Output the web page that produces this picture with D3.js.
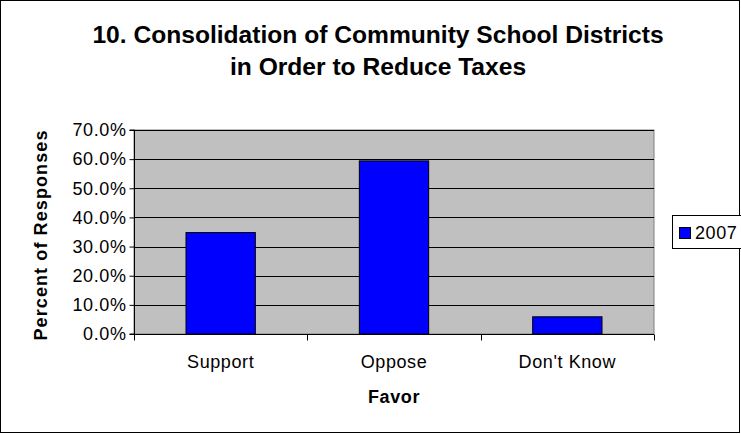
<!DOCTYPE html>
<html>
<head>
<meta charset="utf-8">
<script src="https://cdn.jsdelivr.net/npm/d3@7/dist/d3.min.js"></script>
<style>
  html, body { margin: 0; padding: 0; background: #fff; }
  svg { display: block; font-family: "Liberation Sans", Arial, sans-serif; }
</style>
</head>
<body>
<svg id="chart" width="741" height="434"></svg>
<script>
// Survey responses, 2007
const categories = ["Support", "Oppose", "Don't Know"];
const values2007 = [0.348, 0.594, 0.059];
const seriesName = "2007";
const yTicks = [0, 0.1, 0.2, 0.3, 0.4, 0.5, 0.6, 0.7];
const titleLines = ["10. Consolidation of Community School Districts", "in Order to Reduce Taxes"];

const svg = d3.select("#chart");
const plot = { left: 134, right: 654, top: 130, bottom: 334 };
const FONT = "'Liberation Sans', Arial, sans-serif";

// outer frame
svg.append("rect").attr("x", 0.5).attr("y", 0.5).attr("width", 739).attr("height", 432)
  .attr("fill", "#fff").attr("stroke", "#000").attr("stroke-width", 1);

const x = d3.scaleBand().domain(categories).range([plot.left, plot.right])
  .paddingInner(0.6).paddingOuter(0.3);
const xCat = d3.scaleBand().domain(categories).range([plot.left, plot.right]);
const y = d3.scaleLinear().domain([0, 0.7]).range([plot.bottom, plot.top]);

// plot background
svg.append("rect").attr("x", plot.left).attr("y", plot.top)
  .attr("width", plot.right - plot.left).attr("height", plot.bottom - plot.top)
  .attr("fill", "#c0c0c0").attr("stroke", "#808080").attr("stroke-width", 1);

// gridlines
svg.append("g").selectAll("line").data(yTicks.filter(d => d > 0)).join("line")
  .attr("x1", plot.left).attr("x2", plot.right)
  .attr("y1", d => Math.round(y(d)) + 0.5).attr("y2", d => Math.round(y(d)) + 0.5)
  .attr("stroke", "#000").attr("stroke-width", 1);

// bars
svg.append("g").selectAll("rect").data(categories).join("rect")
  .attr("x", d => x(d)).attr("width", x.bandwidth())
  .attr("y", (d, i) => y(values2007[i]))
  .attr("height", (d, i) => y(0) - y(values2007[i]))
  .attr("fill", "#0000ff").attr("stroke", "#000").attr("stroke-width", 1);

// y axis
const yAxis = d3.axisLeft(y).tickValues(yTicks).tickFormat(d3.format(".1%"))
  .tickSize(5).tickPadding(3);
const gy = svg.append("g").attr("transform", `translate(${plot.left + 0.5},0)`).call(yAxis)
  .attr("font-size", 18).attr("font-family", FONT);
gy.select(".domain").attr("d", `M-5,${plot.top}H0V${plot.bottom}H-5`).attr("stroke", "#000");
gy.selectAll(".tick line").attr("stroke", "#000");
gy.selectAll(".tick text").attr("fill", "#000").style("letter-spacing", "0.6px");

// x axis
const gx = svg.append("g").attr("transform", `translate(0,${plot.bottom + 0.5})`);
gx.append("line").attr("x1", plot.left).attr("x2", plot.right).attr("stroke", "#000");
const boundaries = categories.map(c => xCat(c)).concat([plot.right]);
gx.selectAll("line.tk").data(boundaries).join("line").attr("class", "tk")
  .attr("x1", d => Math.round(d) + 0.5).attr("x2", d => Math.round(d) + 0.5)
  .attr("y1", 0).attr("y2", 6).attr("stroke", "#000");
gx.selectAll("text").data(categories).join("text")
  .attr("x", d => xCat(d) + xCat.bandwidth() / 2).attr("y", 33.5)
  .attr("text-anchor", "middle").attr("font-size", 18)
  .style("letter-spacing", "0.6px").text(d => d);

// axis titles
svg.append("text").attr("x", 394).attr("y", 403).attr("text-anchor", "middle")
  .attr("font-size", 18).attr("font-weight", "bold").style("letter-spacing", "0.6px")
  .text("Favor");
svg.append("text").attr("transform", `translate(46.5,235) rotate(-90)`)
  .attr("text-anchor", "middle").attr("font-size", 18).attr("font-weight", "bold")
  .style("letter-spacing", "1.1px").text("Percent of Responses");

// title
svg.append("g").selectAll("text").data(titleLines).join("text")
  .attr("x", 378).attr("y", (d, i) => 43 + i * 32).attr("text-anchor", "middle")
  .attr("font-size", 24.6).attr("font-weight", "bold").text(d => d);

// legend
const lg = svg.append("g");
lg.append("rect").attr("x", 672.5).attr("y", 215.5).attr("width", 80).attr("height", 33)
  .attr("fill", "#fff").attr("stroke", "#000");
lg.append("rect").attr("x", 679.5).attr("y", 227.5).attr("width", 11).attr("height", 11)
  .attr("fill", "#0000ff").attr("stroke", "#000");
lg.append("text").attr("x", 695).attr("y", 239).attr("font-size", 18)
  .style("letter-spacing", "0.6px").text(seriesName);
</script>
</body>
</html>
